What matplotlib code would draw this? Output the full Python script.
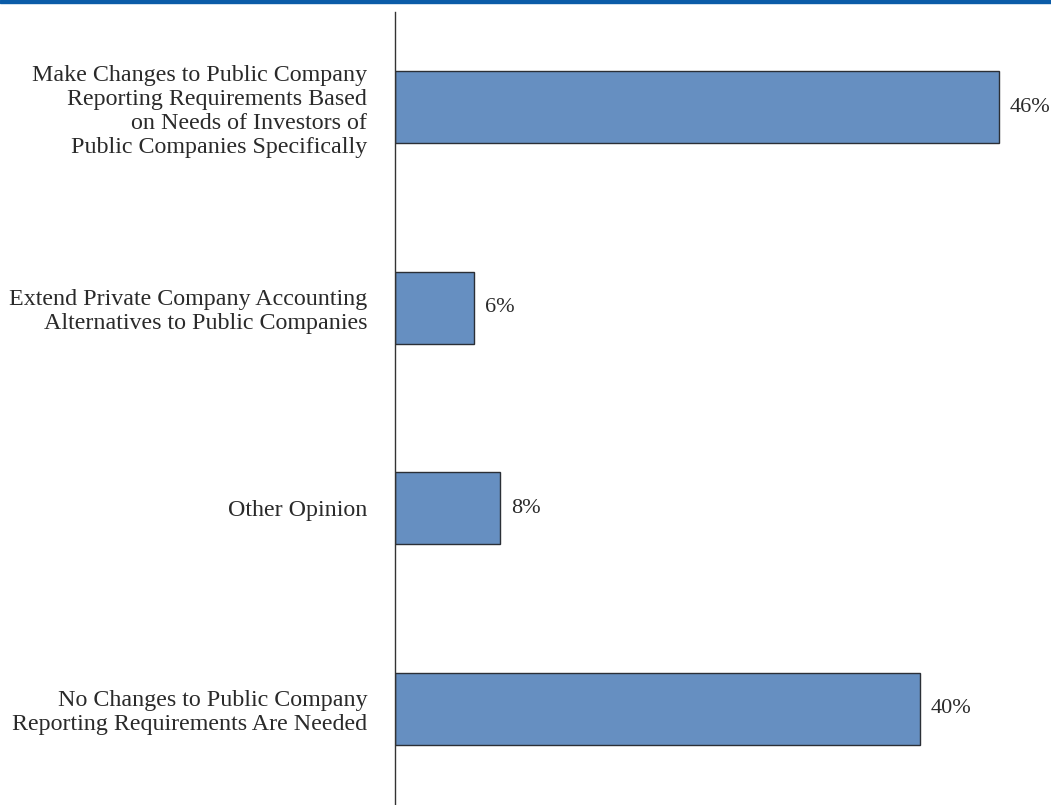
import numpy as np
import matplotlib.pyplot as plt

# data
labels = [
    "Make Changes to Public Company\nReporting Requirements Based\non Needs of Investors of\nPublic Companies Specifically",
    "Extend Private Company Accounting\nAlternatives to Public Companies",
    "Other Opinion",
    "No Changes to Public Company\nReporting Requirements Are Needed",
]
values = [46, 6, 8, 40]

plt.rcParams['font.family'] = ['Liberation Serif', 'DejaVu Serif']

fig = plt.figure(figsize=(10.51, 8.05), dpi=100)
ax = fig.add_axes([395/1051, 0, 1 - 395/1051, 1 - 12/805])

y = np.arange(len(values))
ax.barh(y, values, height=0.36, color='#668fc1', edgecolor='#2b2f36', linewidth=1.0)

for yi, v in zip(y, values):
    ax.annotate(f"{v}%", (v, yi), xytext=(8, 0), textcoords='offset points',
                va='center', ha='left', fontsize=16, color='#2a2a2a')

ax.set_yticks(y)
ax.set_yticklabels(labels, fontsize=17.3, color='#2a2a2a', linespacing=1.19)
ax.tick_params(axis='y', length=0, pad=20)
ax.set_xticks([])
ax.set_xlim(0, 50)
ax.set_ylim(3.48, -0.475)
for s in ['top', 'right', 'bottom']:
    ax.spines[s].set_visible(False)
ax.spines['left'].set_color('#333333')
ax.spines['left'].set_linewidth(1.0)

# blue band at top
fig.patches.append(plt.Rectangle((0, 1 - 3/805), 1, 3/805, transform=fig.transFigure,
                                 color='#0b5ca8', zorder=5))

fig.savefig("out.png", dpi=100)
